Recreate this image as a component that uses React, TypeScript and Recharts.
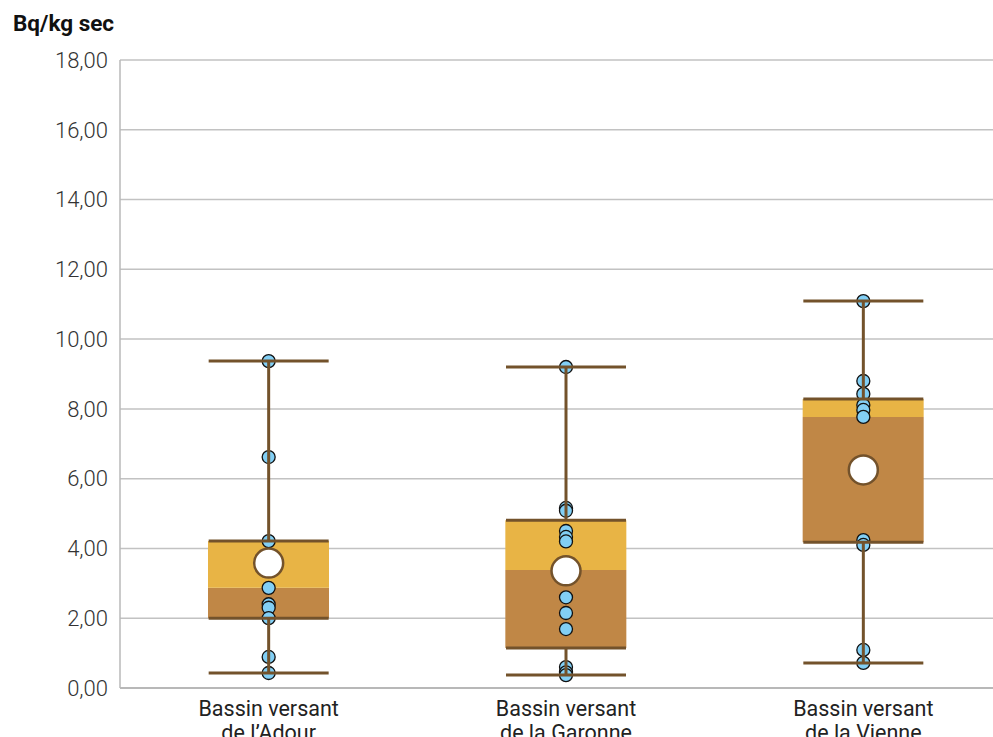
import React from 'react';
import { ComposedChart, Bar, Scatter, ErrorBar, XAxis, YAxis, CartesianGrid } from 'recharts';

// one entry per bassin versant
const bassins = ['Adour', 'Garonne', 'Vienne'];
const labelLines = [
  ['Bassin versant', 'de l’Adour'],
  ['Bassin versant', 'de la Garonne'],
  ['Bassin versant', 'de la Vienne'],
];
const minValues = [0.43, 0.37, 0.72];
const q1Values = [2.0, 1.15, 4.18];
const medianValues = [2.87, 3.38, 7.77];
const q3Values = [4.21, 4.81, 8.28];
const maxValues = [9.37, 9.2, 11.09];
const meanValues = [3.58, 3.36, 6.25];

// individual measurements
const adourPoints = [9.37, 6.62, 4.21, 2.87, 2.4, 2.3, 2.0, 0.89, 0.43];
const garonnePoints = [9.2, 5.16, 5.08, 4.5, 4.33, 4.2, 2.6, 2.15, 1.69, 0.6, 0.45, 0.37];
const viennePoints = [11.09, 8.8, 8.43, 8.11, 7.97, 7.77, 4.24, 4.1, 1.09, 0.72];
const pointSets = [adourPoints, garonnePoints, viennePoints];

const yTicks = [0, 2, 4, 6, 8, 10, 12, 14, 16, 18];

const BROWN = '#73522b';
const LOW_BOX = '#c08746';
const HIGH_BOX = '#e8b445';
const DOT = '#82cff5';

const boxRows = bassins.map((name, i) => ({
  name,
  base: q1Values[i],
  low: medianValues[i] - q1Values[i],
  high: q3Values[i] - medianValues[i],
  q1: q1Values[i],
  q3: q3Values[i],
  mean: meanValues[i],
  upErr: [0, maxValues[i] - q3Values[i]],
  downErr: [q1Values[i] - minValues[i], 0],
}));

const pointRows = bassins.flatMap((name, i) => pointSets[i].map((v) => ({ name, v })));

const fmt = (v: number) => v.toFixed(2).replace('.', ',');

const CategoryTick = (props: any) => {
  const { x, y, index } = props;
  const lines = labelLines[index] || [];
  return (
    <text x={x} y={y} textAnchor="middle" fill="#222" fontSize={21.5} fontFamily="Roboto">
      {lines.map((l, k) => (
        <tspan key={k} x={x} dy={k === 0 ? 20 : 24}>{l}</tspan>
      ))}
    </text>
  );
};

const Dot = (props: any) => (
  <circle cx={props.cx} cy={props.cy} r={6.5} fill={DOT} stroke="#111" strokeWidth={1.3} />
);

const MeanDot = (props: any) => (
  <circle cx={props.cx} cy={props.cy} r={14.5} fill="#fff" stroke={BROWN} strokeWidth={2.5} />
);

const Nothing = () => <g />;

export default function App() {
  return (
    <div style={{ position: 'absolute', left: 0, top: 0, width: 993, height: 737, background: '#fff', overflow: 'hidden' }}>
      <div
        style={{
          position: 'absolute',
          left: 13,
          top: 12,
          fontFamily: 'Roboto',
          fontWeight: 700,
          fontSize: 22.5,
          lineHeight: 1,
          color: '#111',
        }}
      >
        Bq/kg sec
      </div>
      <ComposedChart
        width={993}
        height={737}
        data={boxRows}
        margin={{ top: 60, right: 0, left: 0, bottom: 0 }}
      >
        <CartesianGrid vertical={false} stroke="#c2c2c2" strokeWidth={1.5} />
        <XAxis
          dataKey="name"
          type="category"
          allowDuplicatedCategory={false}
          height={49}
          padding={{ left: 0, right: -19 }}
          tickLine={false}
          axisLine={{ stroke: '#b8b8b8', strokeWidth: 2 }}
          interval={0}
          tick={<CategoryTick />}
        />
        <YAxis
          width={120}
          domain={[0, 18]}
          ticks={yTicks}
          tickFormatter={fmt}
          tickLine={false}
          tickMargin={6}
          axisLine={{ stroke: '#b8b8b8', strokeWidth: 1.5 }}
          tick={{ fill: '#333', fontSize: 22, fontFamily: 'Roboto', fontWeight: 300 }}
        />
        <Bar dataKey="base" stackId="box" fill="transparent" barSize={121} isAnimationActive={false} />
        <Bar dataKey="low" stackId="box" fill={LOW_BOX} barSize={121} isAnimationActive={false} />
        <Bar dataKey="high" stackId="box" fill={HIGH_BOX} barSize={121} isAnimationActive={false} />
        <Scatter data={pointRows} dataKey="v" shape={<Dot />} isAnimationActive={false} />
        <Scatter dataKey="q3" shape={<Nothing />} isAnimationActive={false}>
          <ErrorBar dataKey="upErr" direction="y" width={60} stroke={BROWN} strokeWidth={3} isAnimationActive={false} zIndex={700} />
        </Scatter>
        <Scatter dataKey="q1" shape={<Nothing />} isAnimationActive={false}>
          <ErrorBar dataKey="downErr" direction="y" width={60} stroke={BROWN} strokeWidth={3} isAnimationActive={false} zIndex={700} />
        </Scatter>
        <Scatter dataKey="mean" shape={<MeanDot />} isAnimationActive={false} zIndex={800} />
      </ComposedChart>
    </div>
  );
}
